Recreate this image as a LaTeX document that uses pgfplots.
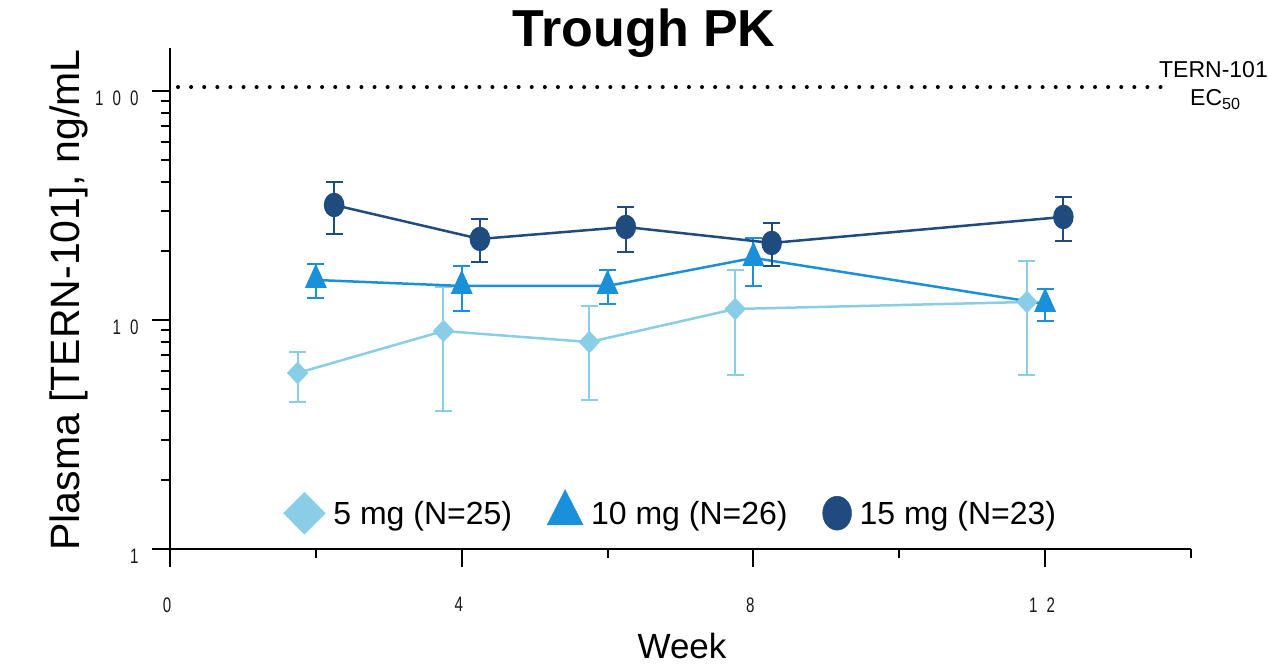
\documentclass[border=0pt]{standalone}
\usepackage{fontspec}
\setmainfont{Liberation Sans}
\usepackage{graphicx}
\usepackage{pgfplots}
\pgfplotsset{compat=1.18}
\definecolor{cA}{RGB}{137,205,230}
\definecolor{cB}{RGB}{27,144,218}
\definecolor{cC}{RGB}{31,75,126}
\newcommand\tl[1]{\scalebox{0.72}[1]{#1}}
\begin{document}
\begin{tikzpicture}
\useasboundingbox (0,0) rectangle (1268pt,665pt);
\clip (0,0) rectangle (1268pt,665pt);
\begin{axis}[
  at={(170pt,116pt)}, anchor=south west,
  scale only axis, width=1021pt, height=501pt,
  xmin=0, xmax=14, ymode=log, ymin=1, ymax=154,
  axis lines=left,
  axis line style={-, line width=2pt, black},
  tick align=outside,
  major tick length=18pt, minor tick length=9pt,
  every tick/.style={black, line width=2pt},
  xtick={0,4,8,12}, minor xtick={2,6,10,14},
  xticklabels={\tl{0},\tl{4},\tl{8},{\tl{1}\hspace{9pt}\tl{2}}},
  ytick={1,10,100},
  minor ytick={2,3,4,5,6,7,8,9,20,30,40,50,60,70,80,90},
  yticklabels={\tl{1},{\tl{1}\hspace{9pt}\tl{0}},{\tl{1}\hspace{9pt}\tl{0}\hspace{9pt}\tl{0}}},
  ticklabel style={font=\fontsize{21}{23}\selectfont, text=black!90},
  xticklabel style={yshift=-27pt, xshift=-3pt},
  yticklabel style={yshift=-7pt, xshift=-10pt},
  clip=false,
  legend image code/.code={\path[#1] plot coordinates {(20pt,0pt)};},
  legend style={at={(0.49,0.074)}, anchor=center, draw=none, fill=none,
    legend columns=3, font=\fontsize{32}{37}\selectfont,
    nodes={inner sep=1pt},
    /tikz/every odd column/.append style={column sep=7pt},
    /tikz/every even column/.append style={column sep=34pt}},
]
% EC50 reference line
\addplot[forget plot, black, line width=4pt, line cap=round, dash pattern=on 0pt off 13.1pt]
  coordinates {(0.11,104) (13.65,104)};

% 5 mg
\addplot[forget plot, cA, line width=2.5pt, mark=diamond*, mark size=9.5pt,
  mark options={xscale=1.26, solid},
  error bars/.cd, y dir=both, y explicit,
  error bar style={line width=2pt, cA},
  error mark options={rotate=90, cA, line width=2pt, mark size=8.5pt}]
  coordinates {
  (1.75,5.87) += (0,1.38) -= (0,1.49)
  (3.75,8.95) += (0,4.99) -= (0,4.95)
  (5.75,8.01) += (0,3.50) -= (0,3.54)
  (7.75,11.17) += (0,5.37) -= (0,5.42)
  (11.75,11.98) += (0,6.11) -= (0,6.23)
  };

% 10 mg
\addplot[forget plot, cB, line width=2.5pt, mark=triangle*, mark size=10.4pt,
  mark options={yscale=1.28, solid},
  error bars/.cd, y dir=both, y explicit,
  error bar style={line width=2pt, cB},
  error mark options={rotate=90, cB, line width=2pt, mark size=8.5pt}]
  coordinates {
  (2,14.95) += (0,2.61) -= (0,2.47)
  (4,14.08) += (0,3.13) -= (0,3.13)
  (6,14.08) += (0,2.46) -= (0,2.33)
  (8,18.66) += (0,4.15) -= (0,4.58)
  (12,11.75) += (0,1.91) -= (0,1.85)
  };

% 15 mg
\addplot[forget plot, cC, line width=2.5pt, mark=*, mark size=11pt,
  mark options={xscale=0.82, solid},
  error bars/.cd, y dir=both, y explicit,
  error bar style={line width=2pt, cC},
  error mark options={rotate=90, cC, line width=2pt, mark size=8.5pt}]
  coordinates {
  (2.25,31.78) += (0,8.27) -= (0,8.03)
  (4.25,22.58) += (0,5.03) -= (0,4.66)
  (6.25,25.47) += (0,5.67) -= (0,5.65)
  (8.25,21.69) += (0,4.83) -= (0,4.48)
  (12.25,28.18) += (0,6.26) -= (0,6.05)
  };

\addlegendimage{cA, mark=diamond*, mark size=21pt, mark options={xscale=1.33}}
\addlegendimage{cB, mark=triangle*, mark size=20.8pt, mark options={yscale=1.13}}
\addlegendimage{cC, mark=*, mark size=17pt, mark options={xscale=0.85}}
\legend{5 mg (N=25), 10 mg (N=26), 15 mg (N=23)}
\end{axis}
\node[anchor=base] at (644pt,618pt) {\fontsize{52}{60}\selectfont\bfseries Trough PK};
\node[rotate=90, anchor=base, inner sep=0pt] at (79pt,365pt) {\fontsize{41}{48}\selectfont Plasma [TERN-101], ng/mL};
\node[anchor=base, inner sep=0pt] at (682pt,7pt) {\fontsize{35}{40}\selectfont Week};
\node[anchor=base east, inner sep=0pt] at (1268pt,587pt) {\fontsize{23}{26}\selectfont TERN-101};
\node[anchor=base west, inner sep=0pt] at (1190pt,559pt) {\fontsize{23}{26}\selectfont EC\textsubscript{50}};
\end{tikzpicture}
\end{document}
